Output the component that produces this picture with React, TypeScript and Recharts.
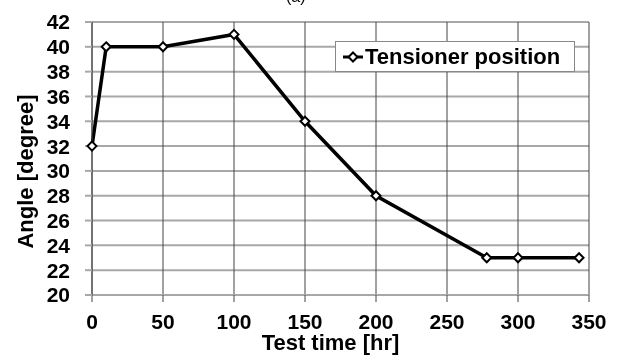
import React from "react";
import { LineChart, Line, XAxis, YAxis, CartesianGrid, Legend } from "recharts";

const testTime = [0, 10, 50, 100, 150, 200, 278, 300, 343];
const angle = [32, 40, 40, 41, 34, 28, 23, 23, 23];
const xTicks = [0, 50, 100, 150, 200, 250, 300, 350];
const yTicks = [20, 22, 24, 26, 28, 30, 32, 34, 36, 38, 40, 42];
const seriesName = "Tensioner position";

const data = testTime.map((t, i) => ({ t, angle: angle[i] }));

const FONT = "'Liberation Sans', Arial, sans-serif";

const Diamond = (props: any) => {
  const { cx, cy } = props;
  if (cx == null || cy == null) return null;
  const s = 4.5;
  return (
    <polygon
      points={`${cx},${cy - s} ${cx + s},${cy} ${cx},${cy + s} ${cx - s},${cy}`}
      fill="#fff"
      stroke="#000"
      strokeWidth={2}
    />
  );
};

const renderLegend = () => (
  <div
    style={{
      border: "1px solid #888",
      background: "#fff",
      height: 31,
      display: "flex",
      alignItems: "center",
      fontFamily: FONT,
      fontWeight: "bold",
      fontSize: 22,
      color: "#000",
      boxSizing: "border-box",
      whiteSpace: "nowrap",
    }}
  >
    <svg width={24} height={14} style={{ marginLeft: 5 }}>
      <line x1={2} y1={7} x2={22} y2={7} stroke="#000" strokeWidth={3} />
      <polygon points="12,2.5 16.5,7 12,11.5 7.5,7" fill="#fff" stroke="#000" strokeWidth={2} />
    </svg>
    <span style={{ marginLeft: 0 }}>{seriesName}</span>
  </div>
);

export default function App() {
  return (
    <div style={{ position: "fixed", left: 0, top: 0, width: 618, height: 356, background: "#fff" }}>
      <div
        style={{
          position: "absolute",
          left: 286,
          top: -12,
          fontFamily: FONT,
          fontSize: 16,
          color: "#000",
        }}
      >
        (a)
      </div>
      <LineChart
        width={618}
        height={356}
        data={data}
        margin={{ top: 22, right: 29, bottom: 16, left: 0 }}
      >
        <CartesianGrid vertical={false} stroke="#a8a8a8" strokeWidth={2} />
        <CartesianGrid horizontal={false} stroke="#444" strokeWidth={1} />
        <XAxis
          dataKey="t"
          type="number"
          domain={[0, 350]}
          ticks={xTicks}
          interval={0}
          height={45}
          tickSize={7}
          tickMargin={12}
          stroke="#a8a8a8"
          strokeWidth={2}
          tickLine={{ stroke: "#444", strokeWidth: 1 }}
          tick={{ fill: "#000", fontSize: 21, fontWeight: "bold", fontFamily: FONT }}
          label={{
            content: (p: any) => {
              const vb = p.viewBox;
              return (
                <text
                  x={vb.x + vb.width / 2 - 10}
                  y={342}
                  textAnchor="middle"
                  dominantBaseline="central"
                  fontFamily={FONT}
                  fontWeight="bold"
                  fontSize={22}
                  fill="#000"
                >
                  Test time [hr]
                </text>
              );
            },
          }}
        />
        <YAxis
          type="number"
          domain={[20, 42]}
          ticks={yTicks}
          interval={0}
          width={92}
          tickSize={7}
          tickMargin={15}
          stroke="#444"
          strokeWidth={1}
          tickLine={{ stroke: "#a8a8a8", strokeWidth: 2 }}
          tick={{ fill: "#000", fontSize: 21, fontWeight: "bold", fontFamily: FONT }}
          label={{
            content: (p: any) => {
              const vb = p.viewBox;
              const cx = vb.x + 25;
              const cy = vb.y + vb.height / 2 + 13;
              return (
                <text
                  x={cx}
                  y={cy}
                  transform={`rotate(-90, ${cx}, ${cy})`}
                  textAnchor="middle"
                  dominantBaseline="central"
                  fontFamily={FONT}
                  fontWeight="bold"
                  fontSize={22}
                  fill="#000"
                >
                  Angle [degree]
                </text>
              );
            },
          }}
        />
        <Legend
          layout="horizontal"
          verticalAlign="middle"
          align="center"
          content={renderLegend}
          wrapperStyle={{ left: 335, top: 41, width: 240, height: 31 }}
        />
        <Line
          name={seriesName}
          dataKey="angle"
          stroke="#000"
          strokeWidth={3.5}
          isAnimationActive={false}
          dot={(p: any) => <Diamond key={`d${p.index}`} {...p} />}
          activeDot={false}
        />
      </LineChart>
    </div>
  );
}
